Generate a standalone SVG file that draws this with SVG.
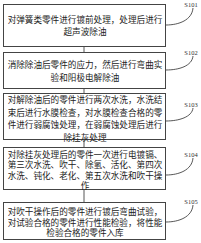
<svg xmlns="http://www.w3.org/2000/svg" width="201" height="243" viewBox="0 0 201 243">
<style>
.box{fill:#fff;stroke:#444;stroke-width:1}
.t{font-family:"Noto Sans CJK SC","Noto Sans",sans-serif;font-size:8.6px;fill:#222;text-anchor:middle;dominant-baseline:central}
.lbl{font-family:"Liberation Serif",serif;font-size:6.5px;fill:#333;text-anchor:middle;dominant-baseline:central}
.c{fill:none;stroke:#444;stroke-width:0.9}
</style>
<rect width="201" height="243" fill="#fff"/>
<g id="connectors">
<line class="c" x1="84" y1="47" x2="84" y2="52"/>
<line class="c" x1="84" y1="89" x2="84" y2="93"/>
<line class="c" x1="84" y1="140" x2="84" y2="147"/>
<line class="c" x1="84" y1="190" x2="84" y2="202"/>
<path class="c" d="M166,25 C179,25 192,20 193,8"/>
<path class="c" d="M166,70 C179,70 192,66 193,56"/>
<path class="c" d="M166,121 C179,121 192,117 193,108"/>
<path class="c" d="M166,175 C179,175 192,170 193,158"/>
<path class="c" d="M166,222 C179,222 192,217 193,205"/>
</g>
<g id="s101">
<rect class="box" x="3.5" y="4.5" width="162" height="42"/>
<text class="t" x="85" y="18.5">对弹簧类零件进行镀前处理，处理后进行</text>
<text class="t" x="85" y="31">超声波除油</text>
<text class="lbl" x="191" y="4">S101</text>
</g>
<g id="s102">
<rect class="box" x="3.5" y="52.5" width="162" height="36"/>
<text class="t" x="85" y="64">消除除油后零件的应力，然后进行弯曲实</text>
<text class="t" x="85" y="77">验和阳极电解除油</text>
<text class="lbl" x="191" y="52">S102</text>
</g>
<g id="s103">
<rect class="box" x="3.5" y="93.5" width="162" height="46"/>
<text class="t" x="85" y="99">对解除油后的零件进行两次水洗，水洗结</text>
<text class="t" x="85" y="111.5">束后进行水膜检查，对水膜检查合格的零</text>
<text class="t" x="85" y="124">件进行弱腐蚀处理，在弱腐蚀处理后进行</text>
<text class="t" x="85" y="136.5">除挂灰处理</text>
<text class="lbl" x="191" y="104">S103</text>
</g>
<g id="s104">
<rect class="box" x="3.5" y="147.5" width="162" height="42"/>
<text class="t" x="85" y="153.5">对除挂灰处理后的零件一次进行电镀镉、</text>
<text class="t" x="85" y="164">第三次水洗、吹干、除氢、活化、第四次</text>
<text class="t" x="85" y="174.5">水洗、钝化、老化、第五次水洗和吹干操</text>
<text class="t" x="85" y="185">作</text>
<text class="lbl" x="191" y="154">S104</text>
</g>
<g id="s105">
<rect class="box" x="3.5" y="202.5" width="162" height="37"/>
<text class="t" x="85" y="211">对吹干操作后的零件进行镀后弯曲试验，</text>
<text class="t" x="85" y="221.5">对试验合格的零件进行性能检验，将性能</text>
<text class="t" x="85" y="232">检验合格的零件入库</text>
<text class="lbl" x="191" y="201">S105</text>
</g>
</svg>
